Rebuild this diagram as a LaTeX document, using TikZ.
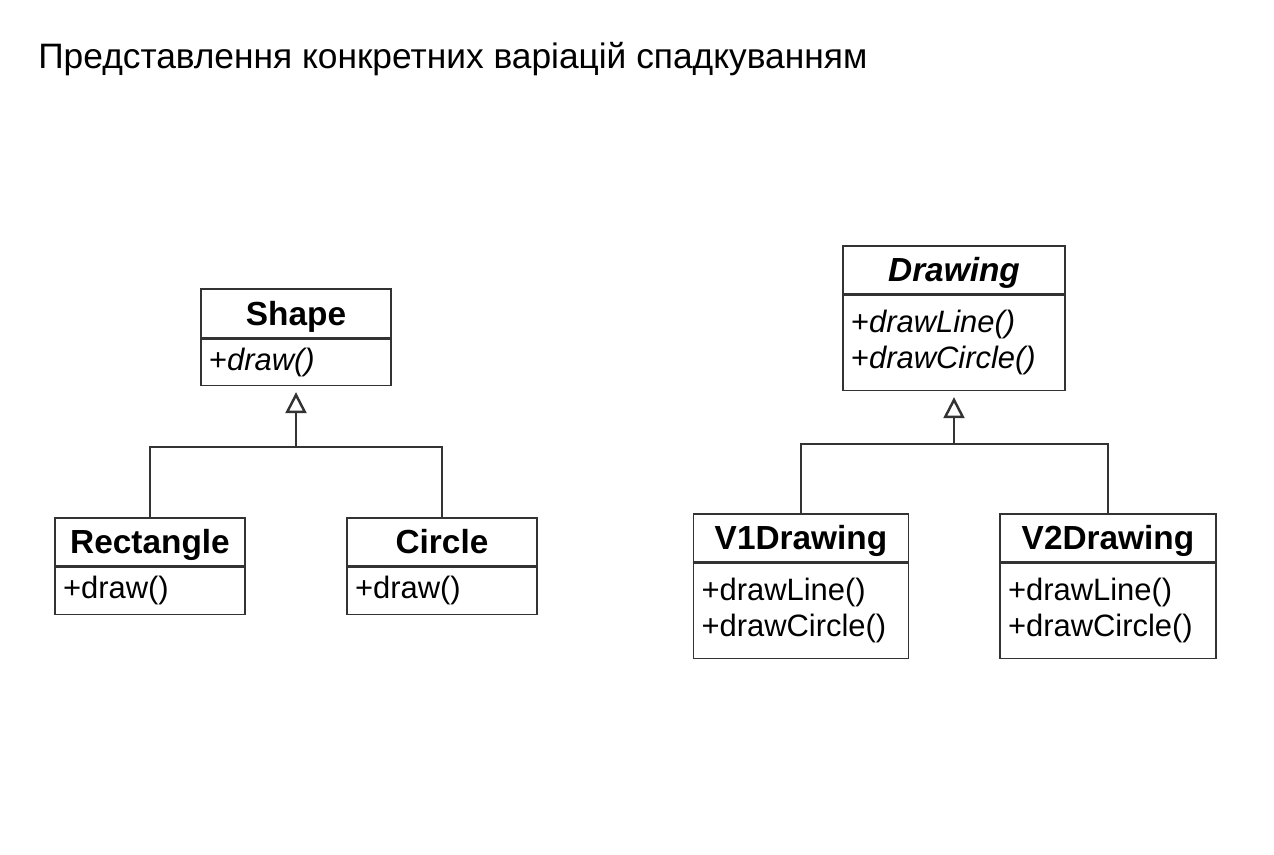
\documentclass[tikz,border=0pt]{standalone}
\usepackage{fontspec}
\setmainfont{Liberation Sans}
\usetikzlibrary{arrows.meta}

\begin{document}
\begin{tikzpicture}[
  cls/.style={draw=black!80, fill=white, line width=0.9pt, inner sep=0pt,
    text height=13.6pt, text depth=0pt, font=\fontsize{19}{22}\selectfont\bfseries},
  ops/.style={draw=black!80, fill=white, line width=0.9pt, inner xsep=0.16cm,
    inner ysep=0pt, align=left, font=\fontsize{17.6}{20.5}\selectfont},
  title/.style={font=\fontsize{20.1}{24}\selectfont, inner sep=0pt},
  link/.style={draw=black!80, line width=0.8pt},
  inh/.style={link, shorten >=0.12cm,
    -{Triangle[open, length=0.42cm, width=0.42cm, line width=1.4pt]}},
]
  \useasboundingbox (0,0) rectangle (25.48,-17.08);

  \node[title, anchor=base west] (title) at (0.76,-1.36)
    {Представлення конкретних варіацій спадкуванням};

  % ===== Shape hierarchy =====
  \node[cls, minimum width=3.8cm, minimum height=0.98cm, anchor=north] (shapehead) at (5.92,-5.76) {Shape};
  \node[ops, text width=3.48cm, minimum height=0.92cm, anchor=north] (shapeops) at (shapehead.south)
    {+\textit{draw()}};

  \node[cls, minimum width=3.8cm, minimum height=0.96cm, anchor=north] (recthead) at (3.0,-10.34) {Rectangle};
  \node[ops, text width=3.48cm, minimum height=0.94cm, anchor=north] (rectops) at (recthead.south)
    {+draw()};

  \node[cls, minimum width=3.8cm, minimum height=0.96cm, anchor=north] (circhead) at (8.84,-10.34) {Circle};
  \node[ops, text width=3.48cm, minimum height=0.94cm, anchor=north] (circops) at (circhead.south)
    {+draw()};

  \coordinate (sjoin) at (5.92,-8.94);
  \draw[link] (recthead.north) |- (sjoin) -| (circhead.north);
  \draw[inh] (sjoin) -- (shapeops.south);

  % ===== Drawing hierarchy =====
  \node[cls, minimum width=4.44cm, minimum height=0.96cm, anchor=north] (drawhead) at (19.08,-4.9)
    {\textit{Drawing}};
  \node[ops, text width=4.12cm, minimum height=1.9cm, anchor=north] (drawops) at (drawhead.south)
    {+\textit{drawLine()}\\+\textit{drawCircle()}};

  \node[cls, minimum width=4.3cm, minimum height=0.96cm, anchor=north] (v1head) at (16.02,-10.26) {V1Drawing};
  \node[ops, text width=3.98cm, minimum height=1.9cm, anchor=north] (v1ops) at (v1head.south)
    {+drawLine()\\+drawCircle()};

  \node[cls, minimum width=4.32cm, minimum height=0.96cm, anchor=north] (v2head) at (22.16,-10.26) {V2Drawing};
  \node[ops, text width=4.0cm, minimum height=1.9cm, anchor=north] (v2ops) at (v2head.south)
    {+drawLine()\\+drawCircle()};

  \coordinate (djoin) at (19.08,-8.88);
  \draw[link] (v1head.north) |- (djoin) -| (v2head.north);
  \draw[inh] (djoin) -- (drawops.south);
\end{tikzpicture}
\end{document}
